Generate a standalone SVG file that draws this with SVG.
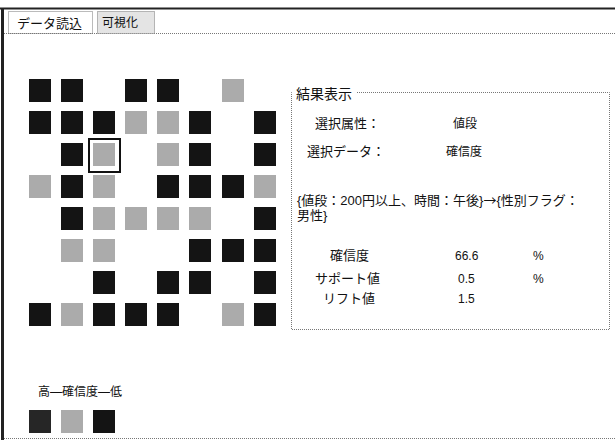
<svg xmlns="http://www.w3.org/2000/svg" width="615" height="440" viewBox="0 0 615 440">
<style>
text{font-family:"Liberation Sans","Noto Sans CJK JP",sans-serif;fill:#111}
.b{fill:#141414}
.g{fill:#ababab}
.dot{fill:none;stroke:#777;stroke-width:1;stroke-dasharray:1 1}
.t13{font-size:13px}
.t12{font-size:12px}
.cjk{font-family:"Noto Sans CJK JP",sans-serif}
</style>
<rect width="615" height="440" fill="#fff"/>
<g id="frame">
<line x1="0" y1="8.5" x2="615" y2="8.5" stroke="#222" stroke-width="2"/>
<line x1="2.5" y1="8" x2="2.5" y2="440" stroke="#222" stroke-width="3"/>
<line x1="4" y1="438.5" x2="615" y2="438.5" class="dot"/>
<line x1="4" y1="33.5" x2="615" y2="33.5" class="dot"/>
</g>
<g id="tab-data">
<rect x="8.5" y="11.5" width="84" height="22" class="dot"/>
<text x="17" y="28" class="t13">データ読込</text>
</g>
<g id="tab-vis">
<rect x="97.5" y="11.5" width="57" height="22" fill="#e4e4e4" stroke="#777" stroke-dasharray="1 1"/>
<text x="102" y="27" class="t12">可視化</text>
</g>
<g id="grid">
<!-- row0 -->
<rect class="b" x="29" y="79" width="22" height="23"/><rect class="b" x="61" y="79" width="22" height="23"/><rect class="b" x="125" y="79" width="22" height="23"/><rect class="b" x="157" y="79" width="22" height="23"/><rect class="g" x="222" y="79" width="22" height="23"/>
<!-- row1 -->
<rect class="b" x="29" y="111" width="22" height="23"/><rect class="b" x="61" y="111" width="22" height="23"/><rect class="b" x="93" y="111" width="22" height="23"/><rect class="g" x="125" y="111" width="22" height="23"/><rect class="g" x="157" y="111" width="22" height="23"/><rect class="b" x="189" y="111" width="22" height="23"/><rect class="b" x="254" y="111" width="22" height="23"/>
<!-- row2 -->
<rect class="b" x="61" y="143" width="22" height="23"/><rect class="g" x="93" y="143" width="22" height="23"/><rect class="g" x="157" y="143" width="22" height="23"/><rect class="b" x="189" y="143" width="22" height="23"/><rect class="b" x="254" y="143" width="22" height="23"/>
<!-- row3 -->
<rect class="g" x="29" y="175" width="22" height="23"/><rect class="b" x="61" y="175" width="22" height="23"/><rect class="g" x="93" y="175" width="22" height="23"/><rect class="b" x="157" y="175" width="22" height="23"/><rect class="b" x="189" y="175" width="22" height="23"/><rect class="b" x="222" y="175" width="22" height="23"/><rect class="g" x="254" y="175" width="22" height="23"/>
<!-- row4 -->
<rect class="b" x="61" y="207" width="22" height="23"/><rect class="g" x="93" y="207" width="22" height="23"/><rect class="g" x="125" y="207" width="22" height="23"/><rect class="g" x="157" y="207" width="22" height="23"/><rect class="g" x="189" y="207" width="22" height="23"/><rect class="b" x="254" y="207" width="22" height="23"/>
<!-- row5 -->
<rect class="g" x="61" y="239" width="22" height="23"/><rect class="g" x="93" y="239" width="22" height="23"/><rect class="b" x="189" y="239" width="22" height="23"/><rect class="b" x="222" y="239" width="22" height="23"/><rect class="b" x="254" y="239" width="22" height="23"/>
<!-- row6 -->
<rect class="b" x="93" y="271" width="22" height="23"/><rect class="b" x="157" y="271" width="22" height="23"/><rect class="b" x="189" y="271" width="22" height="23"/><rect class="b" x="254" y="271" width="22" height="23"/>
<!-- row7 -->
<rect class="b" x="29" y="303" width="22" height="23"/><rect class="g" x="61" y="303" width="22" height="23"/><rect class="b" x="93" y="303" width="22" height="23"/><rect class="b" x="125" y="303" width="22" height="23"/><rect class="b" x="157" y="303" width="22" height="23"/><rect class="g" x="222" y="303" width="22" height="23"/><rect class="b" x="254" y="303" width="22" height="23"/>
</g>
<g id="selection">
<rect x="89" y="139" width="31" height="33" fill="none" stroke="#111" stroke-width="2"/>
</g>
<g id="result-box">
<path d="M357 92.5 H609.5 V329.5 H291.5 V92.5 H293" class="dot"/>
<text x="296" y="99" style="font-size:14px">結果表示</text>
<text x="315" y="128" class="t13">選択属性：</text>
<text x="453" y="128" class="t12">値段</text>
<text x="307" y="156" class="t13">選択データ：</text>
<text x="446" y="156" class="t12">確信度</text>
<text x="297" y="205" class="t13">{値段：200円以上、時間：午後}<tspan class="cjk">→</tspan>{性別フラグ：</text>
<text x="297" y="220" class="t13">男性}</text>
<text x="330" y="260" class="t13">確信度</text>
<text x="455" y="260" class="t12">66.6</text>
<text x="533" y="260" class="t12">%</text>
<text x="315" y="283" class="t13">サポート値</text>
<text x="458" y="283" class="t12">0.5</text>
<text x="533" y="283" class="t12">%</text>
<text x="323" y="303" class="t13">リフト値</text>
<text x="458" y="303" class="t12">1.5</text>
</g>
<g id="legend">
<text x="38" y="396" class="t12">高―確信度―低</text>
<rect x="29" y="410" width="22" height="23" fill="#262626"/>
<rect class="g" x="61" y="410" width="22" height="23"/>
<rect class="b" x="93" y="410" width="22" height="23"/>
</g>
</svg>
